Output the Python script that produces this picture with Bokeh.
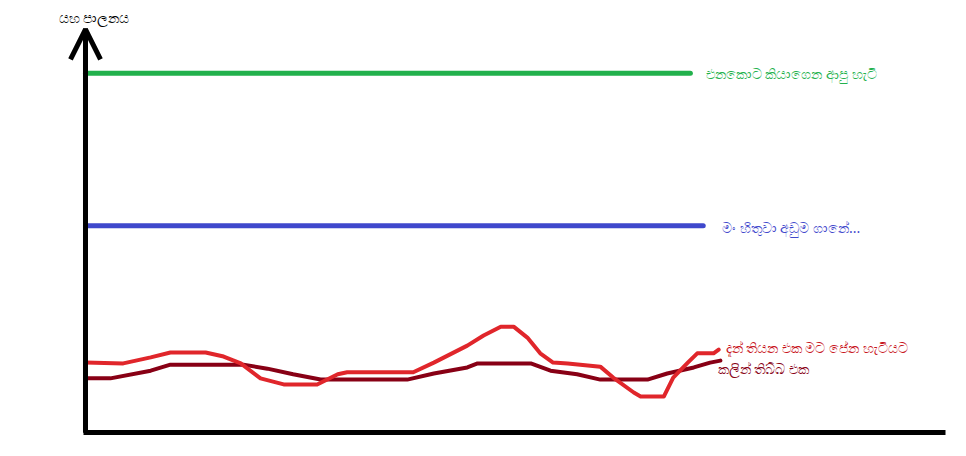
from bokeh.plotting import figure
from bokeh.models import Label, Arrow, OpenHead, Range1d, FixedTicker
from bokeh.embed import file_html
from bokeh.resources import INLINE

# ---- data (x: time 0..100, y: governance 0..100) ----
y_axis_label = "යහ පාලනය"

promised_label = "එනකොට කියාගෙන ආපු හැටි"
promised_x = [0, 70.5]
promised_y = [88.9, 88.9]

expected_label = "මං හිතුවා අඩුම ගානේ..."
expected_x = [0, 72.0]
expected_y = [51.2, 51.2]

current_label = "දැන් තියන එක මට පේන හැටියට"
current_x = [0, 4.4, 7.6, 9.9, 14.0, 16.1, 18.1, 20.4, 23.1, 27.0, 29.4, 30.5, 38.2,
             40.6, 44.5, 46.4, 48.4, 49.9, 51.5, 53.0, 54.5, 56.2, 60.0, 61.5, 63.9,
             64.7, 67.4, 68.5, 70.2, 71.3, 73.2, 73.8]
current_y = [17.3, 17.1, 18.6, 19.8, 19.8, 18.8, 17.1, 13.4, 11.9, 11.9, 14.4, 14.9, 14.9,
             17.3, 21.5, 24.0, 26.2, 26.2, 23.5, 19.6, 17.3, 17.1, 16.3, 13.6, 9.9,
             8.9, 8.9, 13.6, 17.3, 19.6, 19.6, 20.5]

previous_label = "කලින් තිබ්බ එක"
previous_x = [0, 2.9, 7.6, 9.9, 18.4, 21.2, 24.2, 27.4, 37.5, 40.6, 44.5, 45.7, 51.9,
              54.2, 57.3, 60.0, 65.5, 67.8, 70.9, 72.8, 74.0]
previous_y = [13.4, 13.4, 15.3, 16.8, 16.8, 15.8, 14.4, 13.1, 13.1, 14.6, 16.1, 17.1, 17.1,
              15.3, 14.4, 13.1, 13.1, 14.6, 16.1, 17.3, 17.8]

GREEN = "#22b14c"
BLUE = "#3f48cc"
RED = "#e0262b"
DARK = "#880015"
FONT = "Noto Sans"

p = figure(frame_width=948, frame_height=442, output_backend="svg", toolbar_location=None,
           x_range=Range1d(-8.74, 101.75), y_range=Range1d(-2.475, 106.93),
           min_border_left=10, min_border_right=0, min_border_top=0, min_border_bottom=6)
p.outline_line_color = None
p.grid.grid_line_color = None
p.background_fill_color = "white"
p.border_fill_color = "white"

for ax in (p.xaxis, p.yaxis):
    ax.axis_line_width = 5
    ax.axis_line_color = "black"
    ax.ticker = FixedTicker(ticks=[])
    ax.major_tick_line_color = None
    ax.minor_tick_line_color = None
    ax.major_tick_out = 0
    ax.major_tick_in = 0
    ax.major_label_standoff = 0
    ax.fixed_location = 0
p.xaxis.bounds = (-0.2, 100.2)
p.yaxis.bounds = (0, 100)

p.line(promised_x, promised_y, line_color=GREEN, line_width=5, line_cap="round")
p.line(expected_x, expected_y, line_color=BLUE, line_width=5, line_cap="round")
p.line(previous_x, previous_y, line_color=DARK, line_width=4, line_cap="round", line_join="round")
p.line(current_x, current_y, line_color=RED, line_width=4, line_cap="round", line_join="round")

p.add_layout(Arrow(end=OpenHead(size=30, line_width=5, line_color="black"),
                   x_start=0, y_start=0, x_end=0, y_end=99.8,
                   line_width=5, line_color="black"))

def lab(x, y, text, color, align="left"):
    p.add_layout(Label(x=x, y=y, text=text, text_color=color, text_font=FONT,
                       text_font_size="14px", text_baseline="middle", text_align=align))

lab(promised_x[-1] + 1.8, promised_y[-1], promised_label, GREEN)
lab(expected_x[-1] + 2.2, expected_y[-1] - 0.4, expected_label, BLUE)
lab(current_x[-1] + 0.8, current_y[-1] + 0.5, current_label, "#c8141c")
lab(previous_x[-1] - 0.3, previous_y[-1] - 2.0, previous_label, DARK)
lab(1.0, 102.7, y_axis_label, "black", align="center")

open("out.html", "w").write(file_html(p, INLINE))
